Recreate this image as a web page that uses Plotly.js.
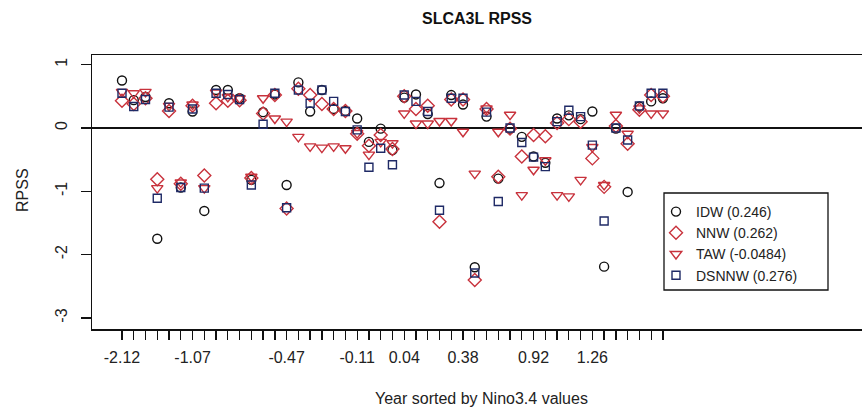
<!DOCTYPE html>
<html>
<head>
<meta charset="utf-8">
<script src="https://cdn.plot.ly/plotly-3.0.1.min.js"></script>
<style>html,body{margin:0;padding:0;background:#fff}#chart{width:862px;height:415px}</style>
</head>
<body>
<div id="chart"></div>
<script>
// Year index (sorted by Nino3.4 value)
const yearIndex = [0,1,2,3,4,5,6,7,8,9,10,11,12,13,14,15,16,17,18,19,20,21,22,23,24,25,26,27,28,29,30,31,32,33,34,35,36,37,38,39,40,41,42,43,44,45,46];
// Nino3.4 labels shown at selected positions
const labelIndex = [0, 6, 14, 20, 24, 29, 35, 40];
const labelText = ["-2.12", "-1.07", "-0.47", "-0.11", "0.04", "0.38", "0.92", "1.26"];

const seriesNames = ["IDW (0.246)", "NNW (0.262)", "TAW (-0.0484)", "DSNNW (0.276)"];

const idw = [0.75,0.44,0.49,-1.75,0.39,-0.94,0.26,-1.31,0.60,0.60,0.47,-0.82,0.25,0.53,-0.90,0.72,0.26,0.60,0.30,0.27,0.15,-0.22,-0.01,-0.35,0.48,0.53,0.22,-0.87,0.52,0.37,-2.20,0.18,-0.80,-0.01,-0.14,-0.45,-0.55,0.15,0.20,0.14,0.26,-2.19,-0.01,-1.01,0.34,0.42,0.47];
const nnw = [0.43,0.38,0.47,-0.81,0.27,-0.88,0.35,-0.75,0.39,0.43,0.44,-0.79,0.23,0.52,-1.27,0.62,0.52,0.38,0.30,0.27,-0.09,-0.28,-0.11,-0.33,0.50,0.30,0.35,-1.48,0.45,0.45,-2.40,0.30,-0.77,-0.01,-0.45,-0.11,-0.13,0.08,0.14,0.10,-0.48,-0.93,0.03,-0.25,0.29,0.52,0.50];
const taw = [0.57,0.55,0.57,-0.95,0.35,-0.86,0.37,-0.95,0.56,0.49,0.47,-0.77,0.47,0.15,0.10,-0.14,-0.29,-0.31,-0.29,-0.32,-0.08,-0.42,-0.22,-0.24,0.23,0.07,0.07,0.11,0.11,-0.06,-0.72,0.31,-0.06,0.21,-1.06,-0.66,-0.51,-1.06,-1.08,-0.82,-0.30,-0.90,0.21,-0.09,0.31,0.23,0.23];
const dsnnw = [0.55,0.34,0.45,-1.11,0.33,-0.94,0.30,-0.95,0.55,0.53,0.45,-0.90,0.06,0.55,-1.26,0.60,0.39,0.60,0.42,0.26,-0.03,-0.62,-0.32,-0.58,0.52,0.42,0.26,-1.30,0.47,0.47,-2.29,0.25,-1.16,0.00,-0.23,-0.46,-0.61,0.10,0.28,0.18,-0.27,-1.47,0.00,-0.19,0.35,0.55,0.55];

const RED = "#c8323c", NAVY = "#1f2a66", BLACK = "#111111";
const FONT = "Liberation Sans, Arial, Helvetica, sans-serif";

const tickText = yearIndex.map(i => {
  const k = labelIndex.indexOf(i);
  return k >= 0 ? labelText[k] : "";
});

function mk(y, name, symbol, color, size) {
  return {
    x: yearIndex, y: y, name: name, type: "scatter", mode: "markers",
    marker: {symbol: symbol, size: size, color: color, line: {color: color, width: 1.4}},
    cliponaxis: false
  };
}

const data = [
  mk(idw, seriesNames[0], "circle-open", BLACK, 9),
  mk(nnw, seriesNames[1], "diamond-open", RED, 10),
  mk(taw, seriesNames[2], "triangle-down-open", RED, 10),
  mk(dsnnw, seriesNames[3], "square-open", NAVY, 8)
];

// pixel helpers for paper coordinates (plot area 92..862 x 55..329)
const px = v => (v - 92) / 770;
const py = v => (329 - v) / 274;

const layout = {
  width: 862, height: 415,
  margin: {l: 92, r: 0, t: 55, b: 86},
  paper_bgcolor: "#fff", plot_bgcolor: "#fff",
  font: {family: FONT, size: 14, color: "#222"},
  title: {text: "<b>SLCA3L RPSS</b>", x: 0.5, xref: "paper", xanchor: "center", y: 1 - 18/415, yanchor: "middle", font: {size: 16, family: FONT, color: "#111"}},
  showlegend: true,
  legend: {x: px(656), y: py(196), xanchor: "left", yanchor: "top", borderwidth: 0,
           bgcolor: "rgba(255,255,255,0)", font: {size: 14, family: FONT, color: "#222"}, tracegroupgap: 0},
  shapes: [
    {type: "rect", xref: "paper", yref: "paper", x0: px(664), x1: px(828), y0: py(193), y1: py(290),
     line: {color: "#111", width: 1.3}, fillcolor: "#fff", layer: "below"}
  ],
  xaxis: {
    range: [-2.55, 62.93], tickmode: "array", tickvals: yearIndex, ticktext: tickText,
    ticks: "outside", ticklen: 9, tickwidth: 1.3, tickcolor: "#111",
    showline: true, linecolor: "#111", linewidth: 1.5, mirror: true,
    showgrid: false, zeroline: false, tickangle: 0, ticklabelstandoff: 4,
    tickfont: {size: 16, family: FONT, color: "#222"}
  },
  yaxis: {
    range: [-3.175, 1.153], tickmode: "array", tickvals: [-3,-2,-1,0,1], ticktext: ["-3","-2","-1","0","1"],
    ticks: "outside", ticklen: 10, tickwidth: 1.3, tickcolor: "#111",
    showline: true, linecolor: "#111", linewidth: 1.5, mirror: true,
    showgrid: false, zeroline: true, zerolinecolor: "#111", zerolinewidth: 1.6,
    tickangle: -90, ticklabelstandoff: 7,
    tickfont: {size: 16, family: FONT, color: "#222"}
  },
  annotations: [
    {text: "Year sorted by Nino3.4 values", xref: "paper", yref: "paper", x: px(482), y: py(398), xanchor: "center", yanchor: "middle", showarrow: false, font: {size: 16, family: FONT, color: "#222"}},
    {text: "RPSS", xref: "paper", yref: "paper", x: px(22), y: py(190), xanchor: "center", yanchor: "middle", textangle: -90, showarrow: false, font: {size: 16, family: FONT, color: "#222"}}
  ]
};

Plotly.newPlot("chart", data, layout, {displayModeBar: false, staticPlot: true});
</script>
</body>
</html>
